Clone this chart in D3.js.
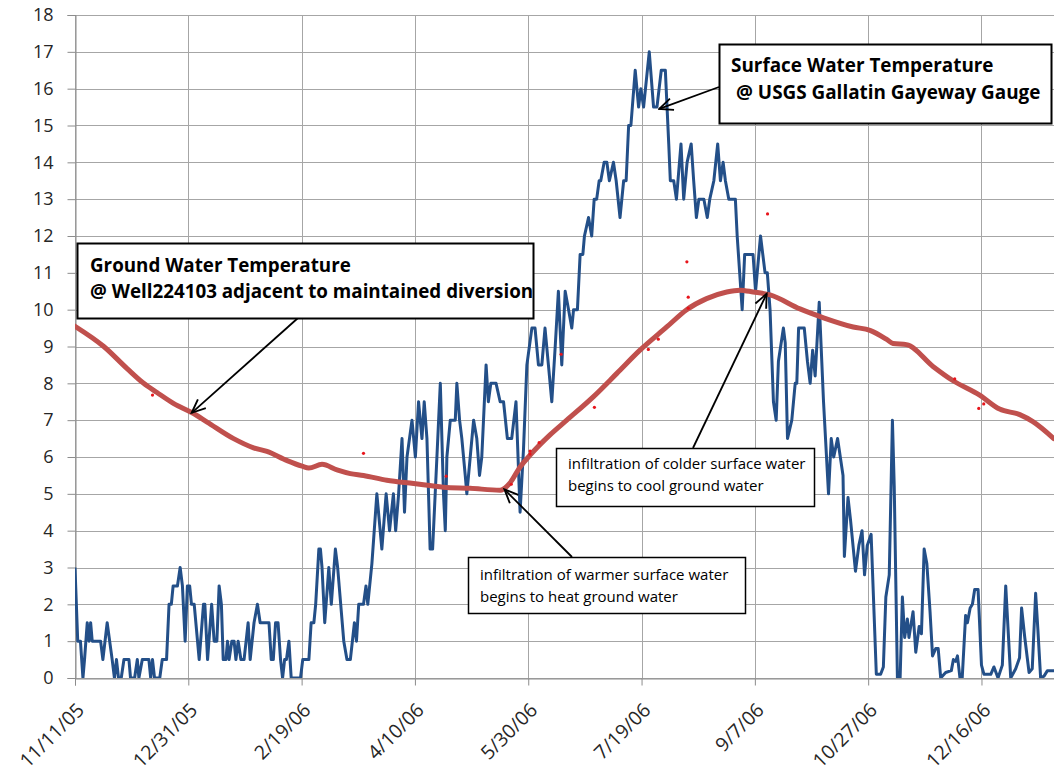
<!DOCTYPE html>
<html>
<head>
<meta charset="utf-8">
<script src="https://cdn.jsdelivr.net/npm/d3@7"></script>
<style>
  body { margin: 0; background: #fff; }
  text { font-family: "Open Sans", Lato, sans-serif; }
</style>
</head>
<body>
<div id="chart"></div>
<script>
// day offsets from 11/11/05, temperature in deg C
const startDate = "11/11/05";
const tickLabels = ["11/11/05", "12/31/05", "2/19/06", "4/10/06", "5/30/06", "7/19/06", "9/7/06", "10/27/06", "12/16/06"];
const yTicks = d3.range(0, 19);

// surface water (USGS Gallatin Gayeway gauge) - [day, temp]
const surfaceTemp = [
  [0,3],[1.2,1],[2.4,1],[3.5,0],[4.2,0.5],[5.4,1.5],[6.2,1],[6.9,1.5],[7.6,1],[11.3,1],[12.3,0.5],[14.2,1.5],
  [16.4,0.5],[17.4,0],[18.3,0.5],[19.2,0],[20.4,0],[21.6,0.5],[23.8,0.5],[24.5,0],[26.3,0],[27.5,0.5],[28.2,0],
  [29.7,0.5],[32.6,0.5],[33.4,0],[34.2,0.5],[35.1,0],[37.4,0],[38.5,0.5],[40.4,0.5],[41.5,2],[42.5,2],[43.3,2.5],
  [45.2,2.5],[46.4,3],[47.4,2.5],[48.6,1],[49.6,2.5],[50.6,2.5],[51.4,2],[52.6,2],[54.8,0.5],[56.7,2],[57.3,2],
  [58.5,0.5],[60.3,2],[61.4,1],[62.6,1],[63.6,2.5],[64.6,2],[65.4,0.5],[66.6,0.5],[67.3,1],[68,0.5],[69.2,1],
  [70.2,1],[71,0.5],[72,1],[73.2,0.5],[74.6,0.5],[76.4,1.5],[77.3,0.5],[79,1.5],[80.5,2],[81.7,1.5],[85.6,1.5],
  [86.6,0.5],[87.5,0.5],[88.5,1.5],[89.6,1.5],[90.7,0.5],[91.6,0],[92.5,0.5],[93.3,0.5],[94.4,1],[95.4,0],
  [99.5,0],[100.5,0.5],[103.2,0.5],[104.2,1.5],[105.4,1.5],[106.2,2],[107.6,3.5],[108.3,3.5],[109,3],[110.2,1.5],
  [112,3],[113.1,2],[114.9,3.5],[115.9,3],[118.6,1],[120,0.5],[121.5,0.5],[123.3,1.5],[124.2,1],[125.2,2],
  [127.3,2],[128.4,2.5],[129.2,2],[131,3.1],[133.2,5],[135.4,3.5],[137.3,5],[138.8,4],[140.5,5],[141.5,4],
  [142.8,5],[144.3,6.5],[145.4,4.5],[146.5,6],[148.7,7],[150.2,6],[151.6,7.5],[153.1,6.5],[154.1,7.5],[155.3,6.5],
  [156.7,3.5],[157.8,3.5],[159.7,6],[161.2,8],[162.6,5],[163.4,4],[164.1,6],[165.6,7],[167.8,7],[168.5,8],
  [169.7,7],[170.7,6.5],[172.2,5.5],[172.9,5],[174.4,6],[175.9,7],[177.3,6.5],[178.5,5.5],[179.5,6],[181.4,8.5],
  [182.4,7.5],[183.5,8],[185.8,8],[187.6,7.5],[189.1,7.5],[190.8,6.5],[192.7,6.5],[194.6,7.5],[196.4,4.5],
  [197.9,6.2],[199.4,8.5],[201.6,9.5],[203,9.5],[204.5,8.5],[206,8.5],[207.4,9.5],[208.9,8.5],[210.4,7.5],
  [211.9,9],[213.3,10.5],[214.8,8.5],[216.3,10.5],[217.8,10],[219.2,9.5],[220,10],[221.7,10],[222.9,11.5],
  [224.1,11.5],[224.8,12],[226.6,12.5],[228,12],[229.1,13],[230.2,13],[231.3,13.5],[232,13.5],[233.5,14],
  [234.7,14],[235.8,13.5],[237.6,14],[238.8,13.5],[240.5,12.5],[242.1,13.5],[243.2,13.5],[244.3,15],[245.3,15],
  [247.2,16.5],[248.7,15.5],[249.7,16],[250.9,15.5],[253.4,17],[255.3,15.5],[256.8,15.5],[258.7,16.5],
  [260.5,16.5],[262,14.5],[262.7,13.5],[264.2,13.5],[265.4,13],[267.4,14.5],[268.6,13],[270.1,14],[271.9,14.5],
  [273,13.5],[274.2,12.5],[275.3,13],[277.5,13],[279,12.5],[280.1,13],[281.9,13.5],[283.6,14.5],[284.8,13.5],
  [286,14],[287,13.5],[288.5,13],[291.4,13],[292.2,12],[294.4,10],[295.5,11.5],[299.2,11.5],[300.3,10.5],
  [302.5,12],[304.5,11],[305.5,11],[306.7,10],[308.2,7.5],[309.4,7],[310.4,8.6],[312.6,9.5],[313.4,9.1],
  [314.4,6.5],[316.3,7],[317.8,8],[318.5,8],[319.3,9.5],[321.8,9.5],[323.2,8.6],[324.4,8],[325.5,8.9],
  [326.6,8.2],[328.4,10.2],[330.3,7.5],[332.5,5],[333.7,6.5],[334.8,6],[336.5,6.5],[338.9,5.5],[339.5,3.3],
  [341.1,4.9],[342.2,4.3],[344.4,2.9],[345.9,3.6],[347.3,4],[348.4,2.8],[349.6,3.6],[351.3,3.9],[353.6,0.1],
  [355.5,0.1],[356.7,0.3],[357.8,2.2],[359.3,2.8],[360.7,7],[361.5,5.2],[362.9,0],[364.1,0],[365.1,2.2],
  [366.1,1.1],[367.3,1.6],[368,1.1],[369.8,1.8],[371,0.7],[372.5,1.4],[373.5,1.2],[374.7,3.5],[375.9,3.1],
  [377.3,1.8],[378.4,0.6],[379.8,0.8],[380.9,0.8],[382,0],[384.2,0.15],[386.7,0.2],[387.6,0.5],[388.6,0.45],
  [389.4,0.6],[390.5,0],[391.5,0],[393,1.7],[393.8,1.5],[395,1.9],[396,2],[397,2.4],[398.5,2.4],[400,0.35],
  [401.1,0.1],[404.1,0.1],[405.5,0.3],[407.3,0],[409.2,0.35],[410.7,2.5],[412.9,0],[415.1,0.25],[416.8,0.55],
  [417.7,1.9],[419.1,1.1],[421,0.15],[422.4,0.25],[423.9,2.3],[424.9,1.3],[426.1,0],[427.6,0.05],[429.1,0.2],
  [432.3,0.2]
];

// ground water (Well224103) - [day, temp]
const groundTemp = [
  [0,9.55],[12.7,9.0],[23,8.4],[30.3,8.0],[36.2,7.75],[43.6,7.45],[51.7,7.2],[58.3,6.95],[70,6.5],[78.8,6.25],
  [84.7,6.15],[93.6,5.9],[100.2,5.75],[103.2,5.7],[109,5.8],[115.6,5.65],[121.5,5.55],[127.3,5.5],[137.6,5.37],
  [149.4,5.28],[162.6,5.18],[174.4,5.15],[187.6,5.1],[192,5.3],[196.4,5.73],[200.8,6.05],[209.6,6.6],[217,7.0],
  [228.8,7.64],[239.1,8.27],[249.3,8.9],[261.1,9.53],[269.9,10.0],[278.7,10.3],[287.6,10.48],[293.4,10.53],
  [299.3,10.48],[306.7,10.4],[319.9,10.02],[330.3,9.78],[343.4,9.53],[350.8,9.44],[358,9.2],[361,9.08],
  [366.9,9.05],[378.6,8.46],[387.5,8.07],[399.2,7.68],[408,7.3],[416.9,7.15],[422.7,6.96],[431.9,6.5]
];

// stray ground water readings
const groundOutliers = [
  [34.2,7.68],[127.3,6.1],[163.8,5.48],[192.5,5.26],[200.8,6.16],[200.8,6.08],[204.8,6.39],[214.5,8.79],
  [229.2,7.35],[253,8.92],[257.4,9.2],[270,11.3],[270.6,10.34],[270.6,10.04],[305.6,12.6],[388.2,8.12],
  [398.8,7.32],[401,7.44]
];

const W = 1054, H = 777;
const plot = { left: 75, top: 15, right: 1054, bottom: 678 };

const svg = d3.select("#chart").append("svg")
  .attr("width", W).attr("height", H);

const parse = d3.utcParse("%m/%d/%y");
const t0 = parse(startDate);
const dayToDate = d => new Date(t0.getTime() + d * 864e5);

const x = d3.scaleUtc()
  .domain([t0, dayToDate(432)])
  .range([plot.left, plot.right]);

const y = d3.scaleLinear()
  .domain([0, 18])
  .range([plot.bottom, plot.top]);

const tickDates = tickLabels.map(parse);

// gridlines
svg.append("g")
  .selectAll("line.h")
  .data(yTicks)
  .enter().append("line")
  .attr("x1", plot.left).attr("x2", plot.right)
  .attr("y1", d => Math.round(y(d)) + 0.5)
  .attr("y2", d => Math.round(y(d)) + 0.5)
  .attr("stroke", "#a6a6a6");

svg.append("g")
  .selectAll("line.v")
  .data(tickDates)
  .enter().append("line")
  .attr("x1", d => Math.round(x(d)) + 0.5)
  .attr("x2", d => Math.round(x(d)) + 0.5)
  .attr("y1", plot.top).attr("y2", plot.bottom)
  .attr("stroke", "#a6a6a6");

// y axis
const yAxis = svg.append("g")
  .attr("transform", "translate(" + (plot.left + 0.5) + ",0)")
  .call(d3.axisLeft(y).tickValues(yTicks).tickSize(8).tickPadding(14));
yAxis.select(".domain").attr("stroke", "#8c8c8c");
yAxis.selectAll(".tick line").attr("stroke", "#8c8c8c");
yAxis.selectAll(".tick text")
  .style("font-size", "18px")
  .style("font-family", "'Open Sans', sans-serif")
  .attr("fill", "#262626");

// x axis
const xAxis = svg.append("g")
  .attr("transform", "translate(0," + (plot.bottom + 0.5) + ")")
  .call(d3.axisBottom(x).tickValues(tickDates).tickSize(7).tickFormat((d, i) => tickLabels[i]));
xAxis.select(".domain").attr("stroke", "#8c8c8c");
xAxis.selectAll(".tick line").attr("stroke", "#8c8c8c");
xAxis.selectAll(".tick text")
  .style("font-size", "19.5px")
  .style("font-family", "'Open Sans', sans-serif")
  .attr("fill", "#262626")
  .attr("text-anchor", "end")
  .attr("transform", "translate(5,28) rotate(-45)")
  .attr("x", 0).attr("y", 0).attr("dy", "0.35em");

// clip
svg.append("clipPath").attr("id", "clip")
  .append("rect")
  .attr("x", plot.left).attr("y", plot.top - 5)
  .attr("width", plot.right - plot.left).attr("height", plot.bottom - plot.top + 5);

const lines = svg.append("g").attr("clip-path", "url(#clip)");

const lineGen = d3.line()
  .x(d => x(dayToDate(d[0])))
  .y(d => y(d[1]));

lines.append("path")
  .datum(surfaceTemp)
  .attr("fill", "none")
  .attr("stroke", "#234f88")
  .attr("stroke-width", 3)
  .attr("stroke-linejoin", "round")
  .attr("d", lineGen);

lines.append("path")
  .datum(groundTemp)
  .attr("fill", "none")
  .attr("stroke", "#c0504d")
  .attr("stroke-width", 5)
  .attr("stroke-linecap", "round")
  .attr("d", lineGen.curve(d3.curveMonotoneX));

lines.selectAll("circle")
  .data(groundOutliers)
  .enter().append("circle")
  .attr("cx", d => x(dayToDate(d[0])))
  .attr("cy", d => y(d[1]))
  .attr("r", 1.6)
  .attr("fill", "#e8141b");

// annotations
svg.append("defs").append("marker")
  .attr("id", "arrow")
  .attr("viewBox", "0 0 20 20")
  .attr("refX", 18).attr("refY", 10)
  .attr("markerWidth", 17).attr("markerHeight", 17)
  .attr("markerUnits", "userSpaceOnUse")
  .attr("orient", "auto")
  .append("path")
  .attr("d", "M2,3 L18,10 L2,17")
  .attr("fill", "none")
  .attr("stroke", "#000")
  .attr("stroke-width", 2.2);

function arrow(x1, y1, day, temp) {
  svg.append("line")
    .attr("x1", x1).attr("y1", y1)
    .attr("x2", x(dayToDate(day))).attr("y2", y(temp))
    .attr("stroke", "#000")
    .attr("stroke-width", 1.8)
    .attr("marker-end", "url(#arrow)");
}

function box(bx, by, bw, bh, lines, opts) {
  const g = svg.append("g");
  g.append("rect")
    .attr("x", bx + 0.5).attr("y", by + 0.5)
    .attr("width", bw).attr("height", bh)
    .attr("fill", "#fff")
    .attr("stroke", "#000")
    .attr("stroke-width", opts.stroke);
  lines.forEach((t, i) => {
    g.append("text")
      .attr("x", bx + opts.dx[i])
      .attr("y", by + opts.dy + i * opts.lh)
      .style("font-size", opts.size + "px")
      .style("font-weight", opts.weight)
      .attr("fill", "#000")
      .text(t);
  });
}

arrow(298, 318, 51.5, 7.2);
arrow(719, 87, 257.8, 15.45);
arrow(572, 557, 189.5, 5.12);
arrow(693, 448, 305.2, 10.43);

box(77, 243, 456, 75, ["Ground Water Temperature", "@ Well224103 adjacent to maintained diversion"],
  { dx: [13, 13], dy: 29, lh: 26, size: 18.8, weight: "bold", stroke: 2 });
box(719, 44, 332, 79, ["Surface Water Temperature", "@ USGS Gallatin Gayeway Gauge"],
  { dx: [12, 17], dy: 28, lh: 27, size: 18.9, weight: "bold", stroke: 2 });
box(556, 448, 258, 58, ["infiltration of colder surface water", "begins to cool ground water"],
  { dx: [12, 12], dy: 21, lh: 22, size: 15, weight: "normal", stroke: 1.5 });
box(468, 557, 277, 56, ["infiltration of warmer surface water", "begins to heat ground water"],
  { dx: [12, 12], dy: 23, lh: 22, size: 15, weight: "normal", stroke: 1.5 });
</script>
</body>
</html>
